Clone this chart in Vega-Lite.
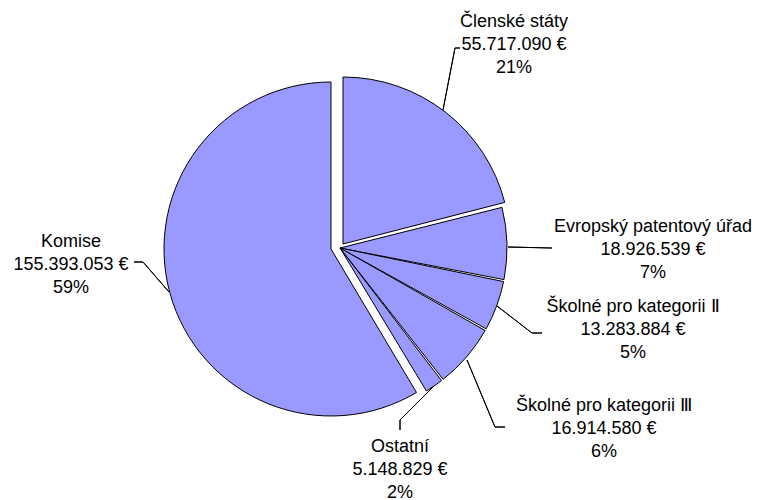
{
  "$schema": "https://vega.github.io/schema/vega-lite/v6.json",
  "width": 680,
  "height": 496,
  "padding": {"left": 0, "top": 0, "right": 79, "bottom": 4},
  "autosize": {"type": "none"},
  "background": "white",
  "config": {"view": {"stroke": null}},
  "data": {
    "values": [
      {"kategorie": "Členské státy", "castka": 55717090, "popisek": "Členské státy\n55.717.090 €\n21%"},
      {"kategorie": "Evropský patentový úřad", "castka": 18926539, "popisek": "Evropský patentový úřad\n18.926.539 €\n7%"},
      {"kategorie": "Školné pro kategorii II", "castka": 13283884, "popisek": "Školné pro kategorii Ⅱ\n13.283.884 €\n5%"},
      {"kategorie": "Školné pro kategorii III", "castka": 16914580, "popisek": "Školné pro kategorii  Ⅲ\n16.914.580 €\n6%"},
      {"kategorie": "Ostatní", "castka": 5148829, "popisek": "Ostatní\n5.148.829 €\n2%"},
      {"kategorie": "Komise", "castka": 155393053, "popisek": "Komise\n155.393.053 €\n59%"}
    ]
  },
  "transform": [{"stack": "castka", "groupby": [], "as": ["v0", "v1"]}],
  "layer": [
    {
      "transform": [{"filter": {"field": "kategorie", "oneOf": ["Evropský patentový úřad", "Školné pro kategorii II", "Školné pro kategorii III", "Ostatní"]}}],
      "mark": {"type": "arc", "radius": 167, "fill": "#9999FF", "stroke": "#000000", "strokeWidth": 1, "padAngle": 0.012},
      "encoding": {
        "theta": {"field": "v0", "type": "quantitative", "stack": null, "scale": {"domain": [0, 265383975], "nice": false, "zero": false}},
        "theta2": {"field": "v1"}
      }
    },
    {
      "transform": [{"filter": {"field": "kategorie", "equal": "Členské státy"}}],
      "mark": {"type": "arc", "radius": 167, "fill": "#9999FF", "stroke": "#000000", "strokeWidth": 1, "xOffset": 3, "yOffset": -4},
      "encoding": {
        "theta": {"field": "v0", "type": "quantitative", "stack": null, "scale": {"domain": [0, 265383975], "nice": false, "zero": false}},
        "theta2": {"field": "v1"}
      }
    },
    {
      "transform": [{"filter": {"field": "kategorie", "equal": "Komise"}}],
      "mark": {"type": "arc", "radius": 167, "fill": "#9999FF", "stroke": "#000000", "strokeWidth": 1, "xOffset": -9, "yOffset": 1},
      "encoding": {
        "theta": {"field": "v0", "type": "quantitative", "stack": null, "scale": {"domain": [0, 265383975], "nice": false, "zero": false}},
        "theta2": {"field": "v1"}
      }
    },
    {
      "transform": [{"filter": {"field": "kategorie", "equal": "Členské státy"}}],
      "mark": {"type": "arc", "radius": 63, "radius2": 0, "thetaOffset": 0.1911, "theta2Offset": 0.1911, "xOffset": 103, "yOffset": -138, "filled": false, "stroke": "#000000", "strokeWidth": 1},
      "encoding": {"theta": {"field": "v0", "type": "quantitative", "stack": null}, "theta2": {"field": "v0"}}
    },
    {
      "transform": [{"filter": {"field": "kategorie", "equal": "Členské státy"}}],
      "mark": {"type": "arc", "radius": 5, "radius2": 0, "thetaOffset": 1.5708, "theta2Offset": 1.5708, "xOffset": 115, "yOffset": -200, "filled": false, "stroke": "#000000", "strokeWidth": 1},
      "encoding": {"theta": {"field": "v0", "type": "quantitative", "stack": null}, "theta2": {"field": "v0"}}
    },
    {
      "transform": [{"filter": {"field": "kategorie", "equal": "Evropský patentový úřad"}}],
      "mark": {"type": "arc", "radius": 44, "radius2": 0, "thetaOffset": 0.2744, "theta2Offset": 0.2744, "xOffset": 168, "yOffset": -1, "filled": false, "stroke": "#000000", "strokeWidth": 1},
      "encoding": {"theta": {"field": "v0", "type": "quantitative", "stack": null}, "theta2": {"field": "v0"}}
    },
    {
      "transform": [{"filter": {"field": "kategorie", "equal": "Školné pro kategorii II"}}],
      "mark": {"type": "arc", "radius": 44, "radius2": 0, "thetaOffset": 0.4608, "theta2Offset": 0.4608, "xOffset": 157, "yOffset": 58, "filled": false, "stroke": "#000000", "strokeWidth": 1},
      "encoding": {"theta": {"field": "v0", "type": "quantitative", "stack": null}, "theta2": {"field": "v0"}}
    },
    {
      "transform": [{"filter": {"field": "kategorie", "equal": "Školné pro kategorii II"}}],
      "mark": {"type": "arc", "radius": 10, "radius2": 0, "thetaOffset": -0.1963, "theta2Offset": -0.1963, "xOffset": 192, "yOffset": 85, "filled": false, "stroke": "#000000", "strokeWidth": 1},
      "encoding": {"theta": {"field": "v0", "type": "quantitative", "stack": null}, "theta2": {"field": "v0"}}
    },
    {
      "transform": [{"filter": {"field": "kategorie", "equal": "Školné pro kategorii III"}}],
      "mark": {"type": "arc", "radius": 72.6, "radius2": 0, "thetaOffset": 0.6641, "theta2Offset": 0.6641, "xOffset": 127, "yOffset": 112, "filled": false, "stroke": "#000000", "strokeWidth": 1},
      "encoding": {"theta": {"field": "v0", "type": "quantitative", "stack": null}, "theta2": {"field": "v0"}}
    },
    {
      "transform": [{"filter": {"field": "kategorie", "equal": "Školné pro kategorii III"}}],
      "mark": {"type": "arc", "radius": 10, "radius2": 0, "thetaOffset": -0.5109, "theta2Offset": -0.5109, "xOffset": 155, "yOffset": 179, "filled": false, "stroke": "#000000", "strokeWidth": 1},
      "encoding": {"theta": {"field": "v0", "type": "quantitative", "stack": null}, "theta2": {"field": "v0"}}
    },
    {
      "transform": [{"filter": {"field": "kategorie", "equal": "Ostatní"}}],
      "mark": {"type": "arc", "radius": 48, "radius2": 0, "thetaOffset": 1.4449, "theta2Offset": 1.4449, "xOffset": 94, "yOffset": 138, "filled": false, "stroke": "#000000", "strokeWidth": 1},
      "encoding": {"theta": {"field": "v0", "type": "quantitative", "stack": null}, "theta2": {"field": "v0"}}
    },
    {
      "transform": [{"filter": {"field": "kategorie", "equal": "Ostatní"}}],
      "mark": {"type": "arc", "radius": 10, "radius2": 0, "thetaOffset": 0.6595, "theta2Offset": 0.6595, "xOffset": 60, "yOffset": 172, "filled": false, "stroke": "#000000", "strokeWidth": 1},
      "encoding": {"theta": {"field": "v0", "type": "quantitative", "stack": null}, "theta2": {"field": "v0"}}
    },
    {
      "transform": [{"filter": {"field": "kategorie", "equal": "Komise"}}],
      "mark": {"type": "arc", "radius": 39.7, "radius2": 0, "thetaOffset": 2.9656, "theta2Offset": 2.9656, "xOffset": -171, "yOffset": 44, "filled": false, "stroke": "#000000", "strokeWidth": 1},
      "encoding": {"theta": {"field": "v0", "type": "quantitative", "stack": null}, "theta2": {"field": "v0"}}
    },
    {
      "transform": [{"filter": {"field": "kategorie", "equal": "Komise"}}],
      "mark": {"type": "arc", "radius": 9, "radius2": 0, "thetaOffset": 2.1086, "theta2Offset": 2.1086, "xOffset": -197, "yOffset": 14, "filled": false, "stroke": "#000000", "strokeWidth": 1},
      "encoding": {"theta": {"field": "v0", "type": "quantitative", "stack": null}, "theta2": {"field": "v0"}}
    },
    {
      "transform": [{"filter": {"field": "kategorie", "equal": "Členské státy"}}],
      "mark": {"type": "text", "radius": 267.4, "thetaOffset": 0.7086, "dy": -23, "font": "Liberation Sans", "fontSize": 18, "lineBreak": "\n", "lineHeight": 23, "align": "center", "baseline": "middle", "color": "#000000"},
      "encoding": {"theta": {"field": "v0", "type": "quantitative", "stack": null}, "text": {"field": "popisek"}}
    },
    {
      "transform": [{"filter": {"field": "kategorie", "equal": "Evropský patentový úřad"}}],
      "mark": {"type": "text", "radius": 313, "thetaOffset": 0.2581, "dy": -23, "font": "Liberation Sans", "fontSize": 18, "lineBreak": "\n", "lineHeight": 23, "align": "center", "baseline": "middle", "color": "#000000"},
      "encoding": {"theta": {"field": "v0", "type": "quantitative", "stack": null}, "text": {"field": "popisek"}}
    },
    {
      "transform": [{"filter": {"field": "kategorie", "equal": "Školné pro kategorii II"}}],
      "mark": {"type": "text", "radius": 304.3, "thetaOffset": 0.0764, "dy": -23, "font": "Liberation Sans", "fontSize": 18, "lineBreak": "\n", "lineHeight": 23, "align": "center", "baseline": "middle", "color": "#000000"},
      "encoding": {"theta": {"field": "v0", "type": "quantitative", "stack": null}, "text": {"field": "popisek"}}
    },
    {
      "transform": [{"filter": {"field": "kategorie", "equal": "Školné pro kategorii III"}}],
      "mark": {"type": "text", "radius": 320.1, "thetaOffset": 0.0902, "dy": -23, "font": "Liberation Sans", "fontSize": 18, "lineBreak": "\n", "lineHeight": 23, "align": "center", "baseline": "middle", "color": "#000000"},
      "encoding": {"theta": {"field": "v0", "type": "quantitative", "stack": null}, "text": {"field": "popisek"}}
    },
    {
      "transform": [{"filter": {"field": "kategorie", "equal": "Ostatní"}}],
      "mark": {"type": "text", "radius": 230, "thetaOffset": 0.3957, "dy": -23, "font": "Liberation Sans", "fontSize": 18, "lineBreak": "\n", "lineHeight": 23, "align": "center", "baseline": "middle", "color": "#000000"},
      "encoding": {"theta": {"field": "v0", "type": "quantitative", "stack": null}, "text": {"field": "popisek"}}
    },
    {
      "transform": [{"filter": {"field": "kategorie", "equal": "Komise"}}],
      "mark": {"type": "text", "radius": 269.5, "thetaOffset": 2.0454, "dy": -23, "font": "Liberation Sans", "fontSize": 18, "lineBreak": "\n", "lineHeight": 23, "align": "center", "baseline": "middle", "color": "#000000"},
      "encoding": {"theta": {"field": "v0", "type": "quantitative", "stack": null}, "text": {"field": "popisek"}}
    }
  ]
}
